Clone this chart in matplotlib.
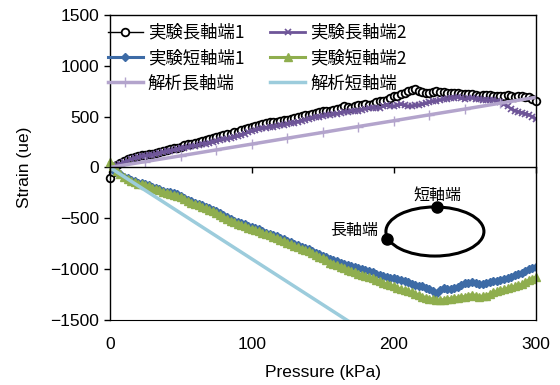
"""Strain vs. pressure at the long/short axis ends (experiment vs. analysis)."""

import matplotlib

matplotlib.use("Agg")

import matplotlib.pyplot as plt
from matplotlib.patches import Ellipse

plt.rcParams["font.family"] = ["Liberation Sans", "Noto Sans CJK JP", "DejaVu Sans"]

# ---------------------------------------------------------------------------
# Data
# ---------------------------------------------------------------------------

# experimental pressure steps (kPa): 0, 2.5, ..., 300
pressure_exp = [i * 2.5 for i in range(121)]

long_exp1 = [
    -100, -40, 20, 45, 60, 80, 90, 105, 110, 125,
    120, 130, 135, 145, 150, 165, 175, 185, 190, 195,
    200, 220, 230, 235, 245, 255, 260, 270, 280, 290,
    300, 305, 315, 325, 330, 345, 350, 365, 380, 385,
    400, 410, 420, 430, 440, 450, 445, 450, 460, 465,
    470, 480, 490, 500, 505, 515, 520, 530, 540, 550,
    555, 555, 560, 570, 580, 590, 600, 595, 590, 600,
    610, 615, 620, 615, 625, 640, 650, 655, 660, 680,
    700, 705, 720, 735, 750, 765, 770, 755, 740, 735,
    735, 745, 750, 745, 740, 735, 730, 730, 735, 725,
    720, 720, 725, 710, 700, 710, 715, 710, 705, 700,
    700, 705, 710, 700, 690, 700, 705, 695, 690, 670,
    650,
]

long_exp2 = [
    -20, 0, 20, 35, 50, 65, 80, 90, 100, 110,
    115, 120, 125, 135, 140, 150, 160, 165, 170, 180,
    190, 195, 200, 210, 215, 225, 235, 235, 240, 255,
    265, 270, 280, 285, 290, 300, 310, 320, 330, 345,
    360, 370, 380, 385, 390, 395, 400, 410, 415, 420,
    430, 435, 440, 450, 460, 470, 480, 490, 495, 500,
    505, 515, 520, 525, 530, 540, 545, 550, 555, 555,
    560, 570, 580, 585, 590, 585, 585, 600, 610, 605,
    600, 610, 620, 610, 600, 605, 610, 615, 620, 630,
    640, 650, 655, 665, 670, 675, 680, 685, 690, 680,
    670, 680, 685, 675, 670, 665, 660, 660, 665, 655,
    640, 620, 600, 580, 560, 550, 540, 530, 520, 500,
    480,
]

short_exp1 = [
    0, -20, -40, -65, -90, -105, -120, -135, -150, -155,
    -160, -175, -190, -200, -215, -230, -240, -245, -255, -265,
    -280, -300, -320, -330, -345, -355, -370, -385, -400, -415,
    -430, -450, -470, -490, -510, -525, -540, -550, -560, -575,
    -590, -600, -610, -625, -640, -650, -660, -675, -690, -705,
    -720, -735, -750, -765, -780, -790, -800, -820, -840, -855,
    -870, -885, -900, -910, -920, -935, -945, -960, -970, -980,
    -990, -1000, -1010, -1020, -1030, -1045, -1060, -1070, -1080, -1085,
    -1090, -1100, -1110, -1120, -1130, -1145, -1160, -1165, -1170, -1185,
    -1200, -1215, -1240, -1210, -1190, -1195, -1200, -1190, -1180, -1160,
    -1140, -1135, -1130, -1140, -1150, -1145, -1140, -1130, -1120, -1115,
    -1110, -1100, -1090, -1075, -1060, -1050, -1040, -1020, -1000, -990,
    -980,
]

short_exp2 = [
    50, 10, -30, -60, -90, -110, -130, -145, -160, -165,
    -175, -185, -200, -210, -225, -240, -250, -258, -268, -280,
    -295, -312, -332, -345, -358, -370, -385, -400, -415, -430,
    -445, -465, -485, -505, -525, -540, -555, -565, -578, -592,
    -605, -615, -628, -642, -656, -668, -680, -695, -710, -725,
    -740, -755, -770, -785, -800, -812, -825, -845, -865, -880,
    -895, -915, -935, -945, -960, -975, -990, -1005, -1020, -1030,
    -1045, -1060, -1070, -1080, -1090, -1105, -1120, -1135, -1150, -1160,
    -1170, -1185, -1200, -1210, -1220, -1230, -1240, -1255, -1270, -1280,
    -1290, -1295, -1300, -1305, -1300, -1295, -1290, -1285, -1280, -1275,
    -1270, -1260, -1250, -1260, -1270, -1265, -1260, -1245, -1230, -1220,
    -1210, -1200, -1190, -1180, -1170, -1160, -1150, -1130, -1110, -1095,
    -1080,
]

# analysis results (kPa, ue)
pressure_ana = [0, 25, 50, 75, 100, 125, 150, 175, 200, 225, 250, 275, 300]
long_ana = [0, 58, 115, 173, 230, 288, 345, 403, 460, 518, 575, 633, 690]
short_ana = [0, -225, -450, -675, -900, -1125, -1350, -1575, -1800, -2025,
             -2250, -2475, -2700]

X_TICKS = [0, 100, 200, 300]
Y_TICKS = [-1500, -1000, -500, 0, 500, 1000, 1500]

# ---------------------------------------------------------------------------
# Figure
# ---------------------------------------------------------------------------

fig = plt.figure(figsize=(5.6, 3.85), dpi=100)
ax = fig.add_axes([0.196, 0.169, 0.761, 0.792])

jp = ["Noto Sans CJK JP", "Liberation Sans"]

l1, = ax.plot(pressure_exp, long_exp1, color="black", lw=1.0, marker="o",
              ms=5.5, mfc="white", mec="black", mew=1.3, clip_on=False,
              label="実験長軸端1")
l2, = ax.plot(pressure_exp, long_exp2, color="#6E5598", lw=2.0, marker="x",
              ms=5, mew=1.2, label="実験長軸端2")
s1, = ax.plot(pressure_exp, short_exp1, color="#3D6BA6", lw=2.2, marker="D",
              ms=4, label="実験短軸端1")
s2, = ax.plot(pressure_exp, short_exp2, color="#8FAE4E", lw=2.2, marker="^",
              ms=5.5, clip_on=False, label="実験短軸端2")
a1, = ax.plot(pressure_ana, long_ana, color="#B3A4CC", lw=2.5, marker="+",
              ms=7, mew=1.0, label="解析長軸端")
a2, = ax.plot(pressure_ana, short_ana, color="#9CCCDC", lw=2.5,
              label="解析短軸端")

ax.set_xlim(0, 300)
ax.set_ylim(-1500, 1500)

# zero line acts as the x axis (ticks there), labels sit on the bottom edge
ax.spines["bottom"].set_position(("data", 0))
ax.set_xticks(X_TICKS)
ax.tick_params(axis="x", direction="out", length=4, width=1,
               labelbottom=False)
sec = ax.secondary_xaxis(0)
sec.set_xticks(X_TICKS)
sec.tick_params(axis="x", length=0, pad=12, labelsize=12.5)
sec.set_xlabel("Pressure (kPa)", fontsize=12.5, labelpad=10)

ax.set_yticks(Y_TICKS)
ax.tick_params(axis="y", direction="out", length=4, width=1, labelsize=12.5)
ax.set_ylabel("Strain (ue)", fontsize=12.5, labelpad=13)

for sp in ax.spines.values():
    sp.set_linewidth(1.0)
    sp.set_color("black")

ax.legend(handles=[l1, s1, a1, l2, s2, a2], ncol=2, loc="upper left",
          frameon=False, prop={"family": jp, "size": 12.5},
          bbox_to_anchor=(-0.025, 1.0), handlelength=2.0, handletextpad=0.3,
          columnspacing=1.5, labelspacing=0.42, borderaxespad=0.1)

# sketch of the ellipse with the measuring points
ax.add_patch(Ellipse((0.763, 0.290), 0.230, 0.161, transform=ax.transAxes,
                     fill=False, ec="black", lw=2.2))
ax.plot([0.650, 0.768], [0.266, 0.370], "o", color="black", ms=8,
        transform=ax.transAxes, ls="none")
ax.text(0.768, 0.410, "短軸端", transform=ax.transAxes, ha="center",
        va="center", family=jp, fontsize=11.5)
ax.text(0.630, 0.295, "長軸端", transform=ax.transAxes, ha="right",
        va="center", family=jp, fontsize=11.5)

fig.savefig("out.png", dpi=100)
